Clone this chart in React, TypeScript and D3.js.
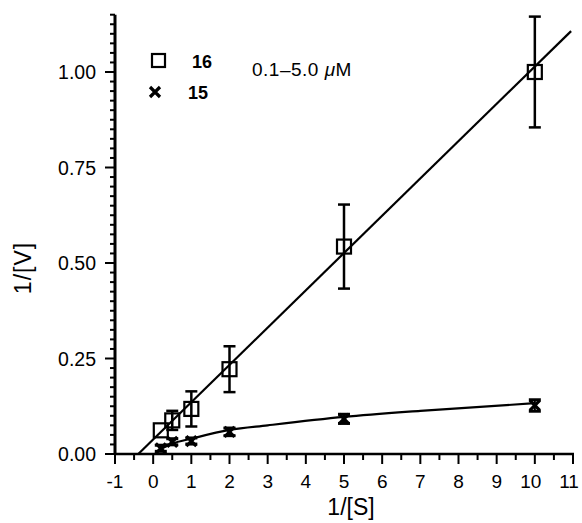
import React, { useRef, useEffect } from "react";
import * as d3 from "d3";

const xTicks = [-1, 0, 1, 2, 3, 4, 5, 6, 7, 8, 9, 10, 11];
const yTicks = [0, 0.25, 0.5, 0.75, 1.0];

// compound 16
const s16 = [0.2, 0.5, 1, 2, 5, 10];
const v16 = [0.062, 0.088, 0.118, 0.222, 0.543, 1.0];
const e16 = [0, 0.025, 0.046, 0.06, 0.11, 0.145];

// compound 15
const s15 = [0.2, 0.5, 1, 2, 5, 10];
const v15 = [0.015, 0.032, 0.034, 0.058, 0.092, 0.127];
const e15 = [0.008, 0.008, 0.008, 0.01, 0.012, 0.015];

// fitted curves
const fit16x = [-0.39, 10.95];
const fit16y = [0, 1.107];
const fit15x = [0.2, 0.5, 1, 2, 3, 5, 7, 10];
const fit15y = [0.013, 0.027, 0.04, 0.063, 0.075, 0.097, 0.113, 0.133];

const App = () => {
  const ref = useRef(null);

  useEffect(() => {
    const svg = d3.select(ref.current);
    svg.selectAll("*").remove();

    const x = d3.scaleLinear().domain([-1, 11]).range([115, 573]);
    const y = d3.scaleLinear().domain([0, 1.15]).range([454, 14.7]);
    const font = "'Liberation Sans', Arial, sans-serif";

    // x axis
    const xa = svg.append("g").attr("transform", `translate(0,${y(0)})`);
    xa.append("line").attr("x1", x(-1) - 1).attr("x2", x(11) + 1).attr("stroke", "#000").attr("stroke-width", 2.5);
    d3.range(-1, 11.01, 0.5).forEach((t) => {
      const major = Math.abs(t - Math.round(t)) < 1e-6;
      xa.append("line")
        .attr("x1", x(t)).attr("x2", x(t))
        .attr("y1", 0).attr("y2", major ? 10 : 6)
        .attr("stroke", "#000").attr("stroke-width", 2);
    });
    xTicks.forEach((t) => {
      xa.append("text")
        .attr("x", x(t) - (t >= 10 ? 4 : 0)).attr("y", 34)
        .attr("text-anchor", "middle")
        .attr("font-family", font).attr("font-size", 19)
        .text(t);
    });

    // y axis
    const ya = svg.append("g").attr("transform", `translate(${x(-1)},0)`);
    ya.append("line").attr("y1", y(0)).attr("y2", y(1.15)).attr("stroke", "#000").attr("stroke-width", 3);
    d3.range(0, 1.151, 0.025).forEach((t) => {
      const major = Math.abs(t / 0.25 - Math.round(t / 0.25)) < 1e-6;
      ya.append("line")
        .attr("y1", y(t)).attr("y2", y(t))
        .attr("x1", 0).attr("x2", major ? -10 : -5)
        .attr("stroke", "#000").attr("stroke-width", 2);
    });
    yTicks.forEach((t) => {
      ya.append("text")
        .attr("x", -19).attr("y", y(t)).attr("dy", "0.36em")
        .attr("text-anchor", "end")
        .attr("font-family", font).attr("font-size", 19.5)
        .text(d3.format(".2f")(t));
    });

    svg.append("text")
      .attr("x", 351).attr("y", 515)
      .attr("text-anchor", "middle")
      .attr("font-family", font).attr("font-size", 23)
      .text("1/[S]");
    svg.append("text")
      .attr("transform", `translate(31,268) rotate(-90)`)
      .attr("text-anchor", "middle")
      .attr("font-family", font).attr("font-size", 23).attr("letter-spacing", 1)
      .text("1/[V]");

    // fitted lines
    const ln = d3.line().x((d) => x(d[0])).y((d) => y(d[1]));
    svg.append("path")
      .attr("d", ln(fit16x.map((v, i) => [v, fit16y[i]])))
      .attr("fill", "none").attr("stroke", "#000").attr("stroke-width", 2.2);
    svg.append("path")
      .attr("d", ln.curve(d3.curveMonotoneX)(fit15x.map((v, i) => [v, fit15y[i]])))
      .attr("fill", "none").attr("stroke", "#000").attr("stroke-width", 2.2);

    // error bars + markers for 16
    s16.forEach((s, i) => {
      const cx = x(s), cy = y(v16[i]);
      if (e16[i] > 0) {
        const top = y(v16[i] + e16[i]), bot = y(v16[i] - e16[i]);
        svg.append("line").attr("x1", cx).attr("x2", cx).attr("y1", top).attr("y2", bot).attr("stroke", "#000").attr("stroke-width", 2.5);
        [top, bot].forEach((yy) =>
          svg.append("line").attr("x1", cx - 6).attr("x2", cx + 6).attr("y1", yy).attr("y2", yy).attr("stroke", "#000").attr("stroke-width", 2.5));
      }
      svg.append("rect")
        .attr("x", cx - 7).attr("y", cy - 7).attr("width", 14).attr("height", 14)
        .attr("fill", "none").attr("stroke", "#000").attr("stroke-width", 2.2);
    });

    // error bars + markers for 15
    s15.forEach((s, i) => {
      const cx = x(s), cy = y(v15[i]);
      const top = y(v15[i] + e15[i]), bot = y(v15[i] - e15[i]);
      svg.append("line").attr("x1", cx).attr("x2", cx).attr("y1", top).attr("y2", bot).attr("stroke", "#000").attr("stroke-width", 2);
      [top, bot].forEach((yy) =>
        svg.append("line").attr("x1", cx - 6).attr("x2", cx + 6).attr("y1", yy).attr("y2", yy).attr("stroke", "#000").attr("stroke-width", 3));
      svg.append("path")
        .attr("d", `M${cx - 5},${cy - 5}L${cx + 5},${cy + 5}M${cx - 5},${cy + 5}L${cx + 5},${cy - 5}`)
        .attr("stroke", "#000").attr("stroke-width", 3.2);
    });

    // legend
    svg.append("rect")
      .attr("x", 152).attr("y", 54).attr("width", 13).attr("height", 13)
      .attr("fill", "none").attr("stroke", "#000").attr("stroke-width", 2.2);
    svg.append("text").attr("x", 192).attr("y", 68)
      .attr("font-family", font).attr("font-size", 18).attr("font-weight", "bold").text("16");
    svg.append("path")
      .attr("d", "M150,87L160,97M150,97L160,87")
      .attr("stroke", "#000").attr("stroke-width", 3.2);
    svg.append("text").attr("x", 188).attr("y", 99)
      .attr("font-family", font).attr("font-size", 18).attr("font-weight", "bold").text("15");
    const t = svg.append("text").attr("x", 252).attr("y", 76)
      .attr("font-family", font).attr("font-size", 19).attr("letter-spacing", 0.5);
    t.append("tspan").text("0.1\u20135.0 ");
    t.append("tspan").attr("font-style", "italic").text("\u03bc");
    t.append("tspan").text("M");
  }, []);

  return (
    <svg
      ref={ref}
      width={582}
      height={523}
      style={{ position: "absolute", left: 0, top: 0, display: "block" }}
    />
  );
};

export default App;
